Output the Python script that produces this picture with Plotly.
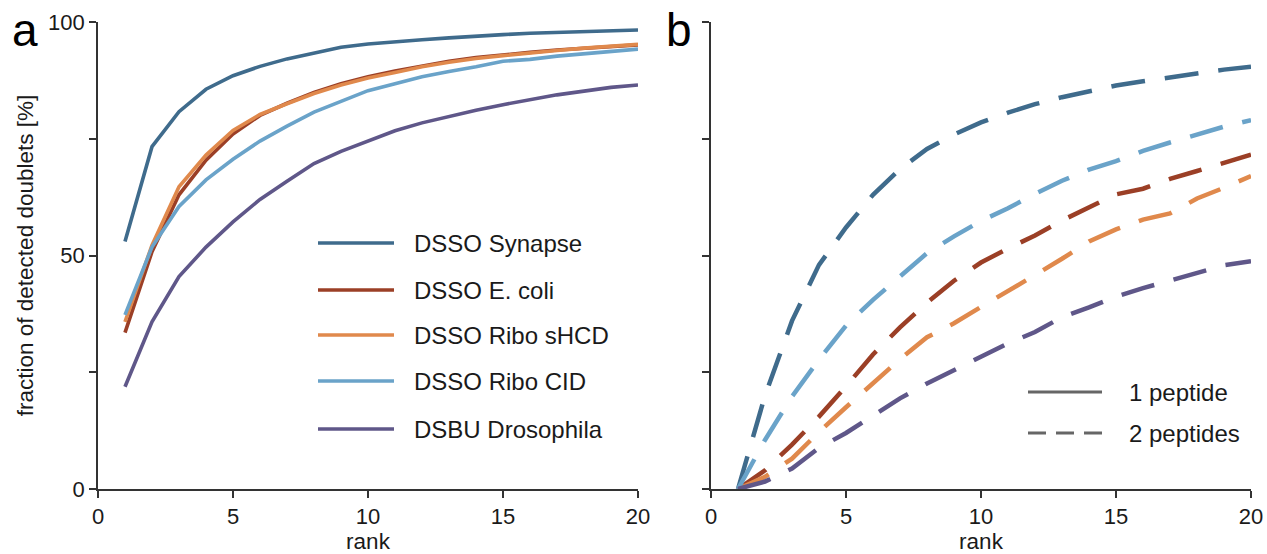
import plotly.graph_objects as go

W, H = 1267, 554

ranks = list(range(1, 21))
series_names = ["DSSO Synapse", "DSSO E. coli", "DSSO Ribo sHCD", "DSSO Ribo CID", "DSBU Drosophila"]
colors = ["#3f6b8c", "#9b3f26", "#e0894c", "#6aa3c9", "#5f5789"]

# panel a: 1 peptide
one_synapse = [53.0, 73.3, 80.8, 85.6, 88.5, 90.5, 92.1, 93.4, 94.6, 95.3, 95.8, 96.2, 96.6, 97.0, 97.3, 97.6, 97.8, 98.0, 98.2, 98.3]
one_ecoli = [33.5, 50.8, 63.0, 70.4, 76.0, 80.0, 82.6, 84.9, 86.8, 88.3, 89.5, 90.6, 91.6, 92.4, 93.0, 93.5, 94.0, 94.4, 94.8, 95.1]
one_shcd = [35.8, 52.2, 64.7, 71.5, 76.8, 80.2, 82.5, 84.7, 86.5, 88.0, 89.2, 90.4, 91.4, 92.2, 92.8, 93.4, 93.9, 94.4, 94.8, 95.2]
one_cid = [37.3, 51.8, 60.5, 66.2, 70.6, 74.5, 77.7, 80.7, 83.0, 85.3, 86.8, 88.3, 89.4, 90.4, 91.6, 92.0, 92.7, 93.2, 93.7, 94.2]
one_dros = [21.9, 35.8, 45.5, 51.8, 57.2, 62.0, 65.9, 69.7, 72.3, 74.5, 76.7, 78.4, 79.8, 81.1, 82.3, 83.4, 84.4, 85.2, 86.0, 86.5]

# panel b: 2 peptides
two_synapse = [0, 20.0, 36.0, 48.0, 56.0, 63.0, 68.5, 72.8, 75.9, 78.5, 80.6, 82.4, 83.9, 85.2, 86.4, 87.3, 88.2, 89.0, 89.8, 90.4]
two_ecoli = [0, 4.0, 9.5, 15.5, 22.0, 28.8, 34.6, 39.9, 44.6, 48.5, 51.5, 54.3, 57.5, 60.2, 63.1, 64.3, 66.4, 68.1, 69.9, 71.6]
two_shcd = [0, 2.6, 6.5, 12.2, 17.5, 22.7, 27.8, 32.5, 35.5, 39.0, 42.3, 45.8, 49.3, 53.0, 55.6, 57.7, 59.0, 62.2, 64.5, 67.0]
two_cid = [0, 10.5, 19.8, 27.7, 35.0, 40.5, 45.5, 50.5, 54.1, 57.4, 60.1, 63.2, 66.0, 68.4, 70.2, 72.4, 74.2, 75.9, 77.6, 79.0]
two_dros = [0, 1.6, 4.4, 8.8, 12.0, 15.7, 19.4, 22.6, 25.5, 28.4, 31.2, 33.6, 36.8, 38.9, 41.2, 43.0, 44.7, 46.4, 47.9, 48.8]

one_pep = [one_synapse, one_ecoli, one_shcd, one_cid, one_dros]
two_pep = [two_synapse, two_ecoli, two_shcd, two_cid, two_dros]

xticks = [0, 5, 10, 15, 20]
yticks = [0, 25, 50, 75, 100]
yticklabels = ["0", "", "50", "", "100"]

FONT = "Liberation Sans, Arial, sans-serif"
TXT = "#1a1a1a"
AX = "#333333"

fig = go.Figure()
for name, col, ys in zip(series_names, colors, one_pep):
    fig.add_trace(go.Scatter(x=ranks, y=ys, mode="lines", name=name,
                             line=dict(color=col, width=3.6), xaxis="x", yaxis="y",
                             showlegend=False))
for name, col, ys in zip(series_names, colors, two_pep):
    fig.add_trace(go.Scatter(x=ranks, y=ys, mode="lines", name=name,
                             line=dict(color=col, width=4.5, dash="34px,20px"),
                             xaxis="x2", yaxis="y2", showlegend=False))

def px_x(p):
    return p / W

def px_y(p):
    return 1 - p / H

axis_common = dict(range=[0, 20], tickvals=xticks, ticks="outside", ticklen=7, tickwidth=1.6,
                   tickcolor=AX, showline=True, linecolor=AX, linewidth=1.6, showgrid=False,
                   zeroline=False, automargin=False, tickfont=dict(size=22, color=TXT, family=FONT),
                   title=dict(text="rank", font=dict(size=22.5, color=TXT, family=FONT), standoff=2))
yaxis_common = dict(range=[0, 100], tickvals=yticks, ticks="outside", ticklen=7, tickwidth=1.6,
                    tickcolor=AX, showline=True, linecolor=AX, linewidth=1.6, showgrid=False,
                    zeroline=False, automargin=False, tickfont=dict(size=22, color=TXT, family=FONT))

fig.update_layout(
    template="none",
    width=W, height=H,
    margin=dict(l=0, r=0, t=0, b=0, pad=0),
    paper_bgcolor="white", plot_bgcolor="white",
    font=dict(family=FONT, color=TXT),
    xaxis=dict(domain=[px_x(98), px_x(638)], anchor="y", **axis_common),
    yaxis=dict(domain=[px_y(489), px_y(22)], anchor="x", ticktext=yticklabels,
               title=dict(text="fraction of detected doublets [%]",
                          font=dict(size=22.5, color=TXT, family=FONT), standoff=8),
               **yaxis_common),
    xaxis2=dict(domain=[px_x(711), px_x(1251)], anchor="y2", **axis_common),
    yaxis2=dict(domain=[px_y(489), px_y(22)], anchor="x2", ticktext=[""] * 5, **yaxis_common),
)

shapes = []
annotations = []
# legend panel a
rows_a = [243, 290, 335, 381, 429]
for name, col, yy in zip(series_names, colors, rows_a):
    shapes.append(dict(type="line", xref="paper", yref="paper",
                       x0=px_x(318), x1=px_x(394), y0=px_y(yy), y1=px_y(yy),
                       line=dict(color=col, width=3.6)))
    annotations.append(dict(text=name, xref="paper", yref="paper", x=px_x(412), y=px_y(yy),
                            xanchor="left", yanchor="middle", showarrow=False,
                            font=dict(size=24, color=TXT, family=FONT)))
# legend panel b
leg_b = [("1 peptide", "solid", 392), ("2 peptides", "18px,10px", 433)]
for label, dsh, yy in leg_b:
    shapes.append(dict(type="line", xref="paper", yref="paper",
                       x0=px_x(1028), x1=px_x(1102), y0=px_y(yy), y1=px_y(yy),
                       line=dict(color="#666666", width=3.2, dash=dsh)))
    annotations.append(dict(text=label, xref="paper", yref="paper", x=px_x(1127), y=px_y(yy),
                            xanchor="left", yanchor="middle", showarrow=False,
                            font=dict(size=24, color=TXT, family=FONT)))
# panel letters
for letter, xx in [("a", 25), ("b", 679)]:
    annotations.append(dict(text=letter, xref="paper", yref="paper", x=px_x(xx), y=px_y(30),
                            xanchor="center", yanchor="middle", showarrow=False,
                            font=dict(size=46, color="#000000", family=FONT)))

fig.update_layout(shapes=shapes, annotations=annotations)
fig.write_html("out.html")
